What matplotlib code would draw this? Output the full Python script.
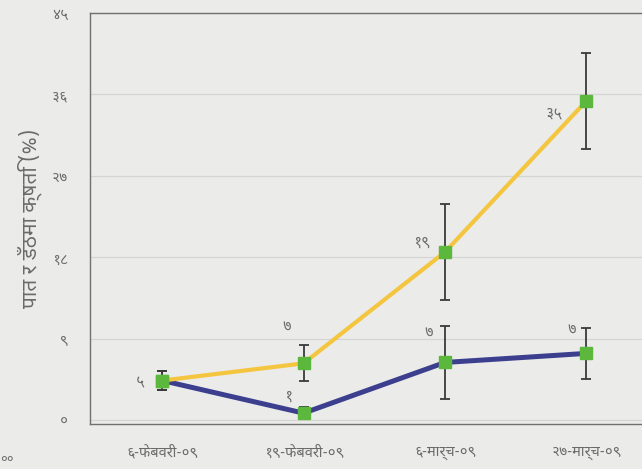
import numpy as np
import matplotlib
matplotlib.use('Agg')
import matplotlib.pyplot as plt
from matplotlib import font_manager
from matplotlib.ft2font import FT2Font

# data
dates = ['६-फेबवरी-०९', '१९-फेबवरी-०९', '६-मार्च-०९', '२७-मार्च-०९']
yellow_vals = [4.4, 6.3, 18.6, 35.3]
yellow_err = [1.0, 2.0, 5.3, 5.3]
yellow_lbls = ['५', '७', '१९', '३५']
blue_vals = [4.4, 0.8, 6.4, 7.4]
blue_err = [1.0, 0.7, 4.0, 2.8]
blue_lbls = ['', '१', '७', '७']
yticks = [0, 9, 18, 27, 36, 45]
ytick_lbls = ['०', '९', '१८', '२७', '३६', '४५']
ylabel = 'पात र डँठमा क्षति (%)'


# find a font that has Devanagari glyphs, prefer dedicated Devanagari families
def find_deva():
    found = []
    for f in font_manager.fontManager.ttflist:
        try:
            if 0x0915 in FT2Font(f.fname).get_charmap():
                found.append(f.name)
        except Exception:
            pass
    if not found:
        return 'DejaVu Sans'
    for key in ['Noto Sans Devanagari', 'Devanagari', 'Lohit', 'Mukta', 'Hind', 'Sans']:
        for name in found:
            if key in name:
                return name
    return found[0]


plt.rcParams['font.family'] = [find_deva(), 'DejaVu Sans']

bg = '#ebebea'
txt = '#6a6a6a'

fig = plt.figure(figsize=(6.42, 4.69), dpi=100, facecolor=bg)
ax = fig.add_axes([90 / 642, 1 - 424 / 469, 570 / 642, 411 / 469], facecolor=bg)

x = np.arange(len(dates))

# lines
ax.plot(x, blue_vals, color='#3b3f8e', linewidth=3.6, zorder=2)
ax.plot(x, yellow_vals, color='#f4c640', linewidth=3.0, zorder=3)

# error bars
ax.errorbar(x, blue_vals, yerr=blue_err, fmt='none', ecolor='#3a3a3a',
            elinewidth=1.3, capsize=3.5, capthick=1.3, zorder=4)
ax.errorbar(x, yellow_vals, yerr=yellow_err, fmt='none', ecolor='#3a3a3a',
            elinewidth=1.3, capsize=3.5, capthick=1.3, zorder=4)

# markers
ax.plot(x, blue_vals, 's', color='#5cb83c', markersize=8.5, linestyle='none', zorder=5)
ax.plot(x, yellow_vals, 's', color='#5cb83c', markersize=8.5, linestyle='none', zorder=5)

# value labels (offsets in points)
y_off = [(-16, -1), (-12, 27), (-17, 7), (-23, -9)]
b_off = [(0, 0), (-11, 12), (-12, 22), (-11, 17)]
for i in range(len(x)):
    if yellow_lbls[i]:
        ax.annotate(yellow_lbls[i], (x[i], yellow_vals[i]), xytext=y_off[i],
                    textcoords='offset points', ha='center', va='center',
                    color=txt, fontsize=11)
    if blue_lbls[i]:
        ax.annotate(blue_lbls[i], (x[i], blue_vals[i]), xytext=b_off[i],
                    textcoords='offset points', ha='center', va='center',
                    color=txt, fontsize=11)

# axes
ax.set_xlim(-0.51, 3.52)
ax.set_ylim(-0.4, 44.5)
ax.set_yticks(yticks)
ax.set_yticklabels(ytick_lbls, color=txt, fontsize=10.5)
ax.set_xticks(x)
ax.set_xticklabels(dates, color=txt, fontsize=10.5)
ax.tick_params(axis='both', length=0)
ax.tick_params(axis='y', pad=16)
ax.tick_params(axis='x', pad=15)
ax.grid(axis='y', color='#d4d4d4', linewidth=0.9)
ax.set_axisbelow(True)
for s in ['top', 'left', 'bottom']:
    ax.spines[s].set_color('#707070')
    ax.spines[s].set_linewidth(1.0)
ax.spines['right'].set_visible(False)

ax.set_ylabel(ylabel, color=txt, fontsize=15)
ax.yaxis.set_label_coords(-0.085, 0.5)

fig.text(0.0, 0.012, '००', color=txt, fontsize=9)

fig.savefig('out.png', dpi=100, facecolor=bg)
